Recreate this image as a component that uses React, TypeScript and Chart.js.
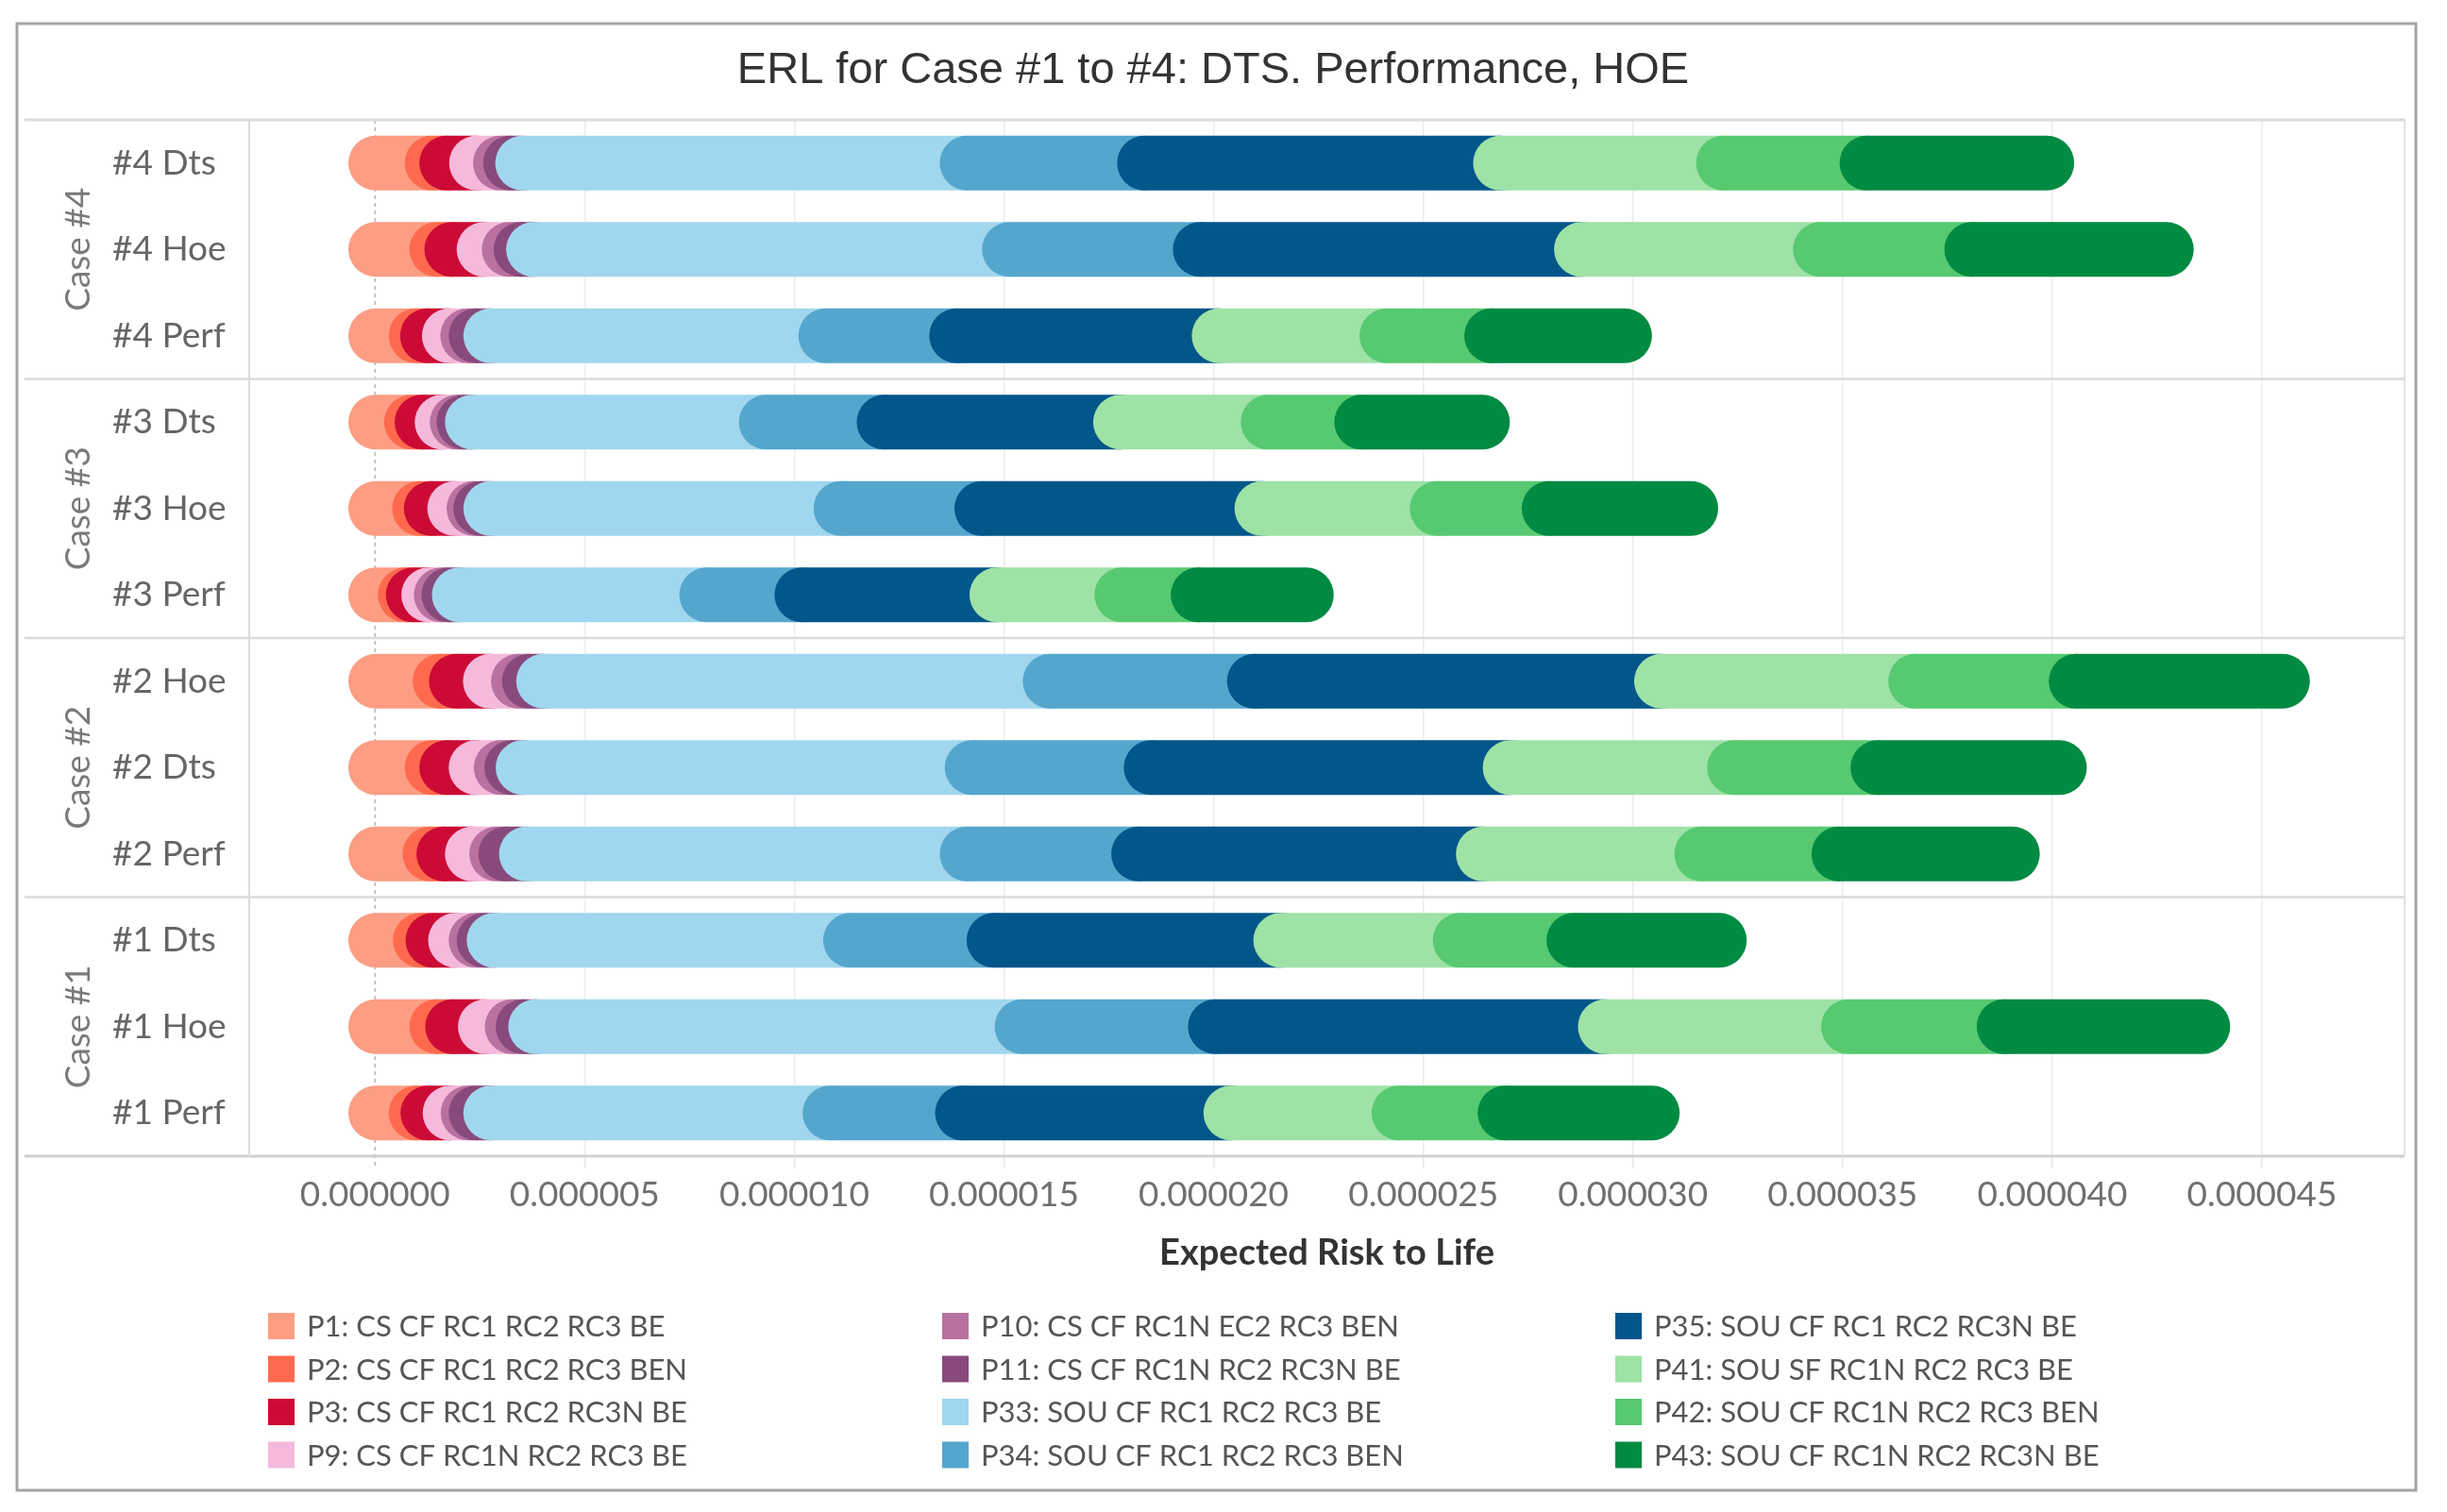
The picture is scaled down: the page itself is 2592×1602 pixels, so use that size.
import React, { useEffect, useRef } from 'react';
import { Chart, registerables } from 'chart.js';

Chart.register(...registerables);

// ---------- data ----------
const rowLabels = ['#4 Dts', '#4 Hoe', '#4 Perf', '#3 Dts', '#3 Hoe', '#3 Perf', '#2 Hoe', '#2 Dts', '#2 Perf', '#1 Dts', '#1 Hoe', '#1 Perf'];
const groupLabels = ['Case #4', 'Case #3', 'Case #2', 'Case #1'];
const groupSizes = [3, 3, 3, 3];

const seriesNames = [
  'P1: CS CF RC1 RC2 RC3 BE',
  'P2: CS CF RC1 RC2 RC3 BEN',
  'P3: CS CF RC1 RC2 RC3N BE',
  'P9: CS CF RC1N RC2 RC3 BE',
  'P10: CS CF RC1N EC2 RC3 BEN',
  'P11: CS CF RC1N RC2 RC3N BE',
  'P33: SOU CF RC1 RC2 RC3 BE',
  'P34: SOU CF RC1 RC2 RC3 BEN',
  'P35: SOU CF RC1 RC2 RC3N BE',
  'P41: SOU SF RC1N RC2 RC3 BE',
  'P42: SOU CF RC1N RC2 RC3 BEN',
  'P43: SOU CF RC1N RC2 RC3N BE',
];

const seriesColors = ['#FC9D84', '#FF6A4E', '#CB0B35', '#F4B9DB', '#B9719F', '#884A7C', '#A0D7EE', '#54A6CD', '#02568A', '#9EE2A6', '#56C971', '#018A42'];

const p1 = [1.36e-6, 1.47e-6, 0.98e-6, 0.87e-6, 1.06e-6, 0.72e-6, 1.55e-6, 1.36e-6, 1.31e-6, 1.08e-6, 1.47e-6, 0.98e-6];
const p2 = [0.35e-6, 0.36e-6, 0.27e-6, 0.25e-6, 0.28e-6, 0.19e-6, 0.39e-6, 0.35e-6, 0.33e-6, 0.30e-6, 0.38e-6, 0.28e-6];
const p3 = [0.71e-6, 0.77e-6, 0.52e-6, 0.48e-6, 0.56e-6, 0.37e-6, 0.81e-6, 0.70e-6, 0.68e-6, 0.54e-6, 0.78e-6, 0.53e-6];
const p9 = [0.57e-6, 0.60e-6, 0.44e-6, 0.36e-6, 0.46e-6, 0.30e-6, 0.67e-6, 0.60e-6, 0.58e-6, 0.49e-6, 0.64e-6, 0.43e-6];
const p10 = [0.24e-6, 0.28e-6, 0.20e-6, 0.16e-6, 0.16e-6, 0.18e-6, 0.26e-6, 0.25e-6, 0.22e-6, 0.19e-6, 0.26e-6, 0.19e-6];
const p11 = [0.29e-6, 0.30e-6, 0.35e-6, 0.20e-6, 0.24e-6, 0.25e-6, 0.34e-6, 0.27e-6, 0.49e-6, 0.24e-6, 0.30e-6, 0.35e-6];
const p33 = [10.60e-6, 11.35e-6, 7.99e-6, 7.01e-6, 8.35e-6, 5.90e-6, 12.08e-6, 10.71e-6, 10.51e-6, 8.50e-6, 11.60e-6, 8.09e-6];
const p34 = [4.23e-6, 4.55e-6, 3.12e-6, 2.81e-6, 3.36e-6, 2.27e-6, 4.87e-6, 4.27e-6, 4.09e-6, 3.42e-6, 4.61e-6, 3.16e-6];
const p35 = [8.49e-6, 9.09e-6, 6.26e-6, 5.64e-6, 6.68e-6, 4.65e-6, 9.71e-6, 8.56e-6, 8.22e-6, 6.84e-6, 9.30e-6, 6.40e-6];
const p41 = [5.32e-6, 5.70e-6, 4.00e-6, 3.52e-6, 4.18e-6, 2.98e-6, 6.06e-6, 5.35e-6, 5.21e-6, 4.28e-6, 5.80e-6, 4.01e-6];
const p42 = [3.42e-6, 3.61e-6, 2.50e-6, 2.23e-6, 2.67e-6, 1.82e-6, 3.83e-6, 3.42e-6, 3.27e-6, 2.71e-6, 3.71e-6, 2.53e-6];
const p43 = [4.29e-6, 4.64e-6, 3.17e-6, 2.88e-6, 3.38e-6, 2.58e-6, 4.92e-6, 4.33e-6, 4.14e-6, 3.47e-6, 4.74e-6, 3.51e-6];

const seriesValues = [p1, p2, p3, p9, p10, p11, p33, p34, p35, p41, p42, p43];

const xTicks = [0, 5e-6, 10e-6, 15e-6, 20e-6, 25e-6, 30e-6, 35e-6, 40e-6, 45e-6];
const xMin = -3.0e-6;
const xMax = 48.4e-6;

const chartTitle = 'ERL for Case #1 to #4: DTS. Performance, HOE';
const xAxisTitle = 'Expected Risk to Life';

// ---------- layout / style ----------
const W = 2592;
const H = 1602;
const FONT = 'Lato, "Noto Sans", sans-serif';

const roundSegments = {
  id: 'roundSegments',
  afterDatasetsUpdate(chart: any) {
    chart.data.datasets.forEach((_ds: any, i: number) => {
      const meta = chart.getDatasetMeta(i);
      meta.data.forEach((el: any) => {
        const r = el.height / 2;
        el.base = el.base - r;
        el.x = el.x + r;
        el.enableBorderRadius = true;
      });
    });
  },
  beforeDatasetsDraw(chart: any) {
    const { ctx, chartArea: a, scales } = chart;
    const ys = scales.y;
    const x0 = scales.x.getPixelForValue(0);
    const panelLeft = 26;
    ctx.save();
    // zero line (dotted)
    ctx.strokeStyle = '#b8b8b8';
    ctx.lineWidth = 1.5;
    ctx.setLineDash([4, 4]);
    ctx.beginPath();
    ctx.moveTo(x0, a.top);
    ctx.lineTo(x0, a.bottom + 12);
    ctx.stroke();
    ctx.setLineDash([]);

    // panel lines
    ctx.strokeStyle = '#dadada';
    ctx.lineWidth = 3;
    ctx.beginPath();
    ctx.moveTo(panelLeft, a.top);
    ctx.lineTo(a.right, a.top);
    ctx.stroke();

    ctx.lineWidth = 2.5;
    let idx = 0;
    for (let g = 0; g < groupSizes.length - 1; g++) {
      idx += groupSizes[g];
      const yb = (ys.getPixelForValue(idx - 1) + ys.getPixelForValue(idx)) / 2;
      ctx.beginPath();
      ctx.moveTo(panelLeft, yb);
      ctx.lineTo(a.right, yb);
      ctx.stroke();
    }
    ctx.strokeStyle = '#d0d0d0';
    ctx.lineWidth = 3;
    ctx.beginPath();
    ctx.moveTo(panelLeft, a.bottom);
    ctx.lineTo(a.right, a.bottom);
    ctx.stroke();

    ctx.strokeStyle = '#dadada';
    ctx.lineWidth = 2;
    ctx.beginPath();
    ctx.moveTo(a.left, a.top);
    ctx.lineTo(a.left, a.bottom);
    ctx.stroke();
    ctx.strokeStyle = '#e2e2e2';
    ctx.beginPath();
    ctx.moveTo(a.right, a.top);
    ctx.lineTo(a.right, a.bottom);
    ctx.stroke();
    ctx.restore();

    // draw segments so that later segments overlap earlier ones
    for (let i = 0; i < chart.data.datasets.length; i++) {
      const meta = chart.getDatasetMeta(i);
      if (meta.visible !== false && chart.isDatasetVisible(i)) meta.controller.draw();
    }
    return false;
  },
  afterDraw(chart: any) {
    const { ctx, chartArea: a, scales } = chart;
    const ys = scales.y;
    ctx.save();
    // frame
    ctx.strokeStyle = '#a4a4a4';
    ctx.lineWidth = 3;
    ctx.strokeRect(18, 25, 2541, 1554);

    // title
    ctx.fillStyle = '#333333';
    ctx.font = '47px "Liberation Sans", Arial, sans-serif';
    ctx.textAlign = 'center';
    ctx.textBaseline = 'middle';
    ctx.fillText(chartTitle, 1285, 75);

    // group labels
    ctx.fillStyle = '#7a7a7a';
    ctx.font = `37px ${FONT}`;
    let start = 0;
    groupLabels.forEach((g, gi) => {
      const end = start + groupSizes[gi] - 1;
      const cy = (ys.getPixelForValue(start) + ys.getPixelForValue(end)) / 2;
      ctx.save();
      ctx.translate(83, cy);
      ctx.rotate(-Math.PI / 2);
      ctx.fillText(g, 0, 0);
      ctx.restore();
      start = end + 1;
    });

    // x axis title
    ctx.fillStyle = '#333333';
    ctx.font = `bold 38px ${FONT}`;
    ctx.fillText(xAxisTitle, (a.left + a.right) / 2, 1328);

    // legend (3 columns, 4 rows, column-major)
    const colX = [284, 998, 1711];
    const rowY = 1405;
    const rowStep = 45.5;
    ctx.font = `31px ${FONT}`;
    ctx.textAlign = 'left';
    seriesNames.forEach((name, k) => {
      const col = Math.floor(k / 4);
      const row = k % 4;
      const cx = colX[col];
      const cy = rowY + row * rowStep;
      ctx.fillStyle = seriesColors[k];
      ctx.fillRect(cx, cy - 14, 28, 28);
      ctx.fillStyle = '#555555';
      ctx.fillText(name, cx + 41, cy + 1);
    });
    ctx.restore();
  },
};

export default function App() {
  const canvasRef = useRef<HTMLCanvasElement | null>(null);

  useEffect(() => {
    document.body.style.margin = '0';
    document.body.style.overflow = 'hidden';
    let chart: any = null;
    let cancelled = false;

    const build = () => {
      if (cancelled || !canvasRef.current) return;
      const datasets = seriesValues.map((vals, i) => ({
        label: seriesNames[i],
        data: vals,
        backgroundColor: seriesColors[i],
        borderWidth: 0,
        borderRadius: 1000,
        borderSkipped: false as const,
        barPercentage: 0.634,
        categoryPercentage: 1,
      }));
      chart = new Chart(canvasRef.current, {
        type: 'bar',
        data: { labels: rowLabels, datasets },
        plugins: [roundSegments],
        options: {
          indexAxis: 'y',
          animation: false,
          responsive: true,
          maintainAspectRatio: false,
          events: [],
          layout: { padding: { left: 119, top: 127, right: 45, bottom: 0 } },
          plugins: {
            legend: { display: false },
            title: { display: false },
            tooltip: { enabled: false },
          },
          scales: {
            x: {
              type: 'linear',
              stacked: true,
              min: xMin,
              max: xMax,
              afterBuildTicks: (s: any) => {
                s.ticks = xTicks.map((v) => ({ value: v }));
              },
              afterFit: (s: any) => {
                s.height = H - 1225;
              },
              grid: {
                color: (c: any) => (c.tick && c.tick.value === 0 ? 'rgba(0,0,0,0)' : '#ececec'),
                lineWidth: 1.5,
                drawTicks: true,
                tickLength: 12,
                tickColor: (c: any) => (c.tick && c.tick.value === 0 ? 'rgba(0,0,0,0)' : '#e6e6e6'),
              },
              border: { display: false },
              ticks: {
                callback: (v: any) => Number(v).toFixed(6),
                font: { family: FONT, size: 37 },
                color: '#707070',
                padding: 7,
                maxRotation: 0,
                autoSkip: false,
              },
            },
            y: {
              type: 'category',
              stacked: true,
              afterFit: (s: any) => {
                s.width = 145;
              },
              grid: { display: false },
              border: { display: false },
              ticks: {
                crossAlign: 'far',
                font: { family: FONT, size: 37 },
                color: '#666666',
              },
            },
          },
        } as any,
      });
    };

    const fontsReady = (document as any).fonts
      ? Promise.all([
          (document as any).fonts.load('37px Lato'),
          (document as any).fonts.load('bold 38px Lato'),
          (document as any).fonts.load('47px "Liberation Sans"'),
        ]).catch(() => null)
      : Promise.resolve(null);
    fontsReady.then(build);

    return () => {
      cancelled = true;
      if (chart) chart.destroy();
    };
  }, []);

  return (
    <div style={{ position: 'absolute', left: 0, top: 0, width: W, height: H, background: '#ffffff' }}>
      <canvas ref={canvasRef} />
    </div>
  );
}
